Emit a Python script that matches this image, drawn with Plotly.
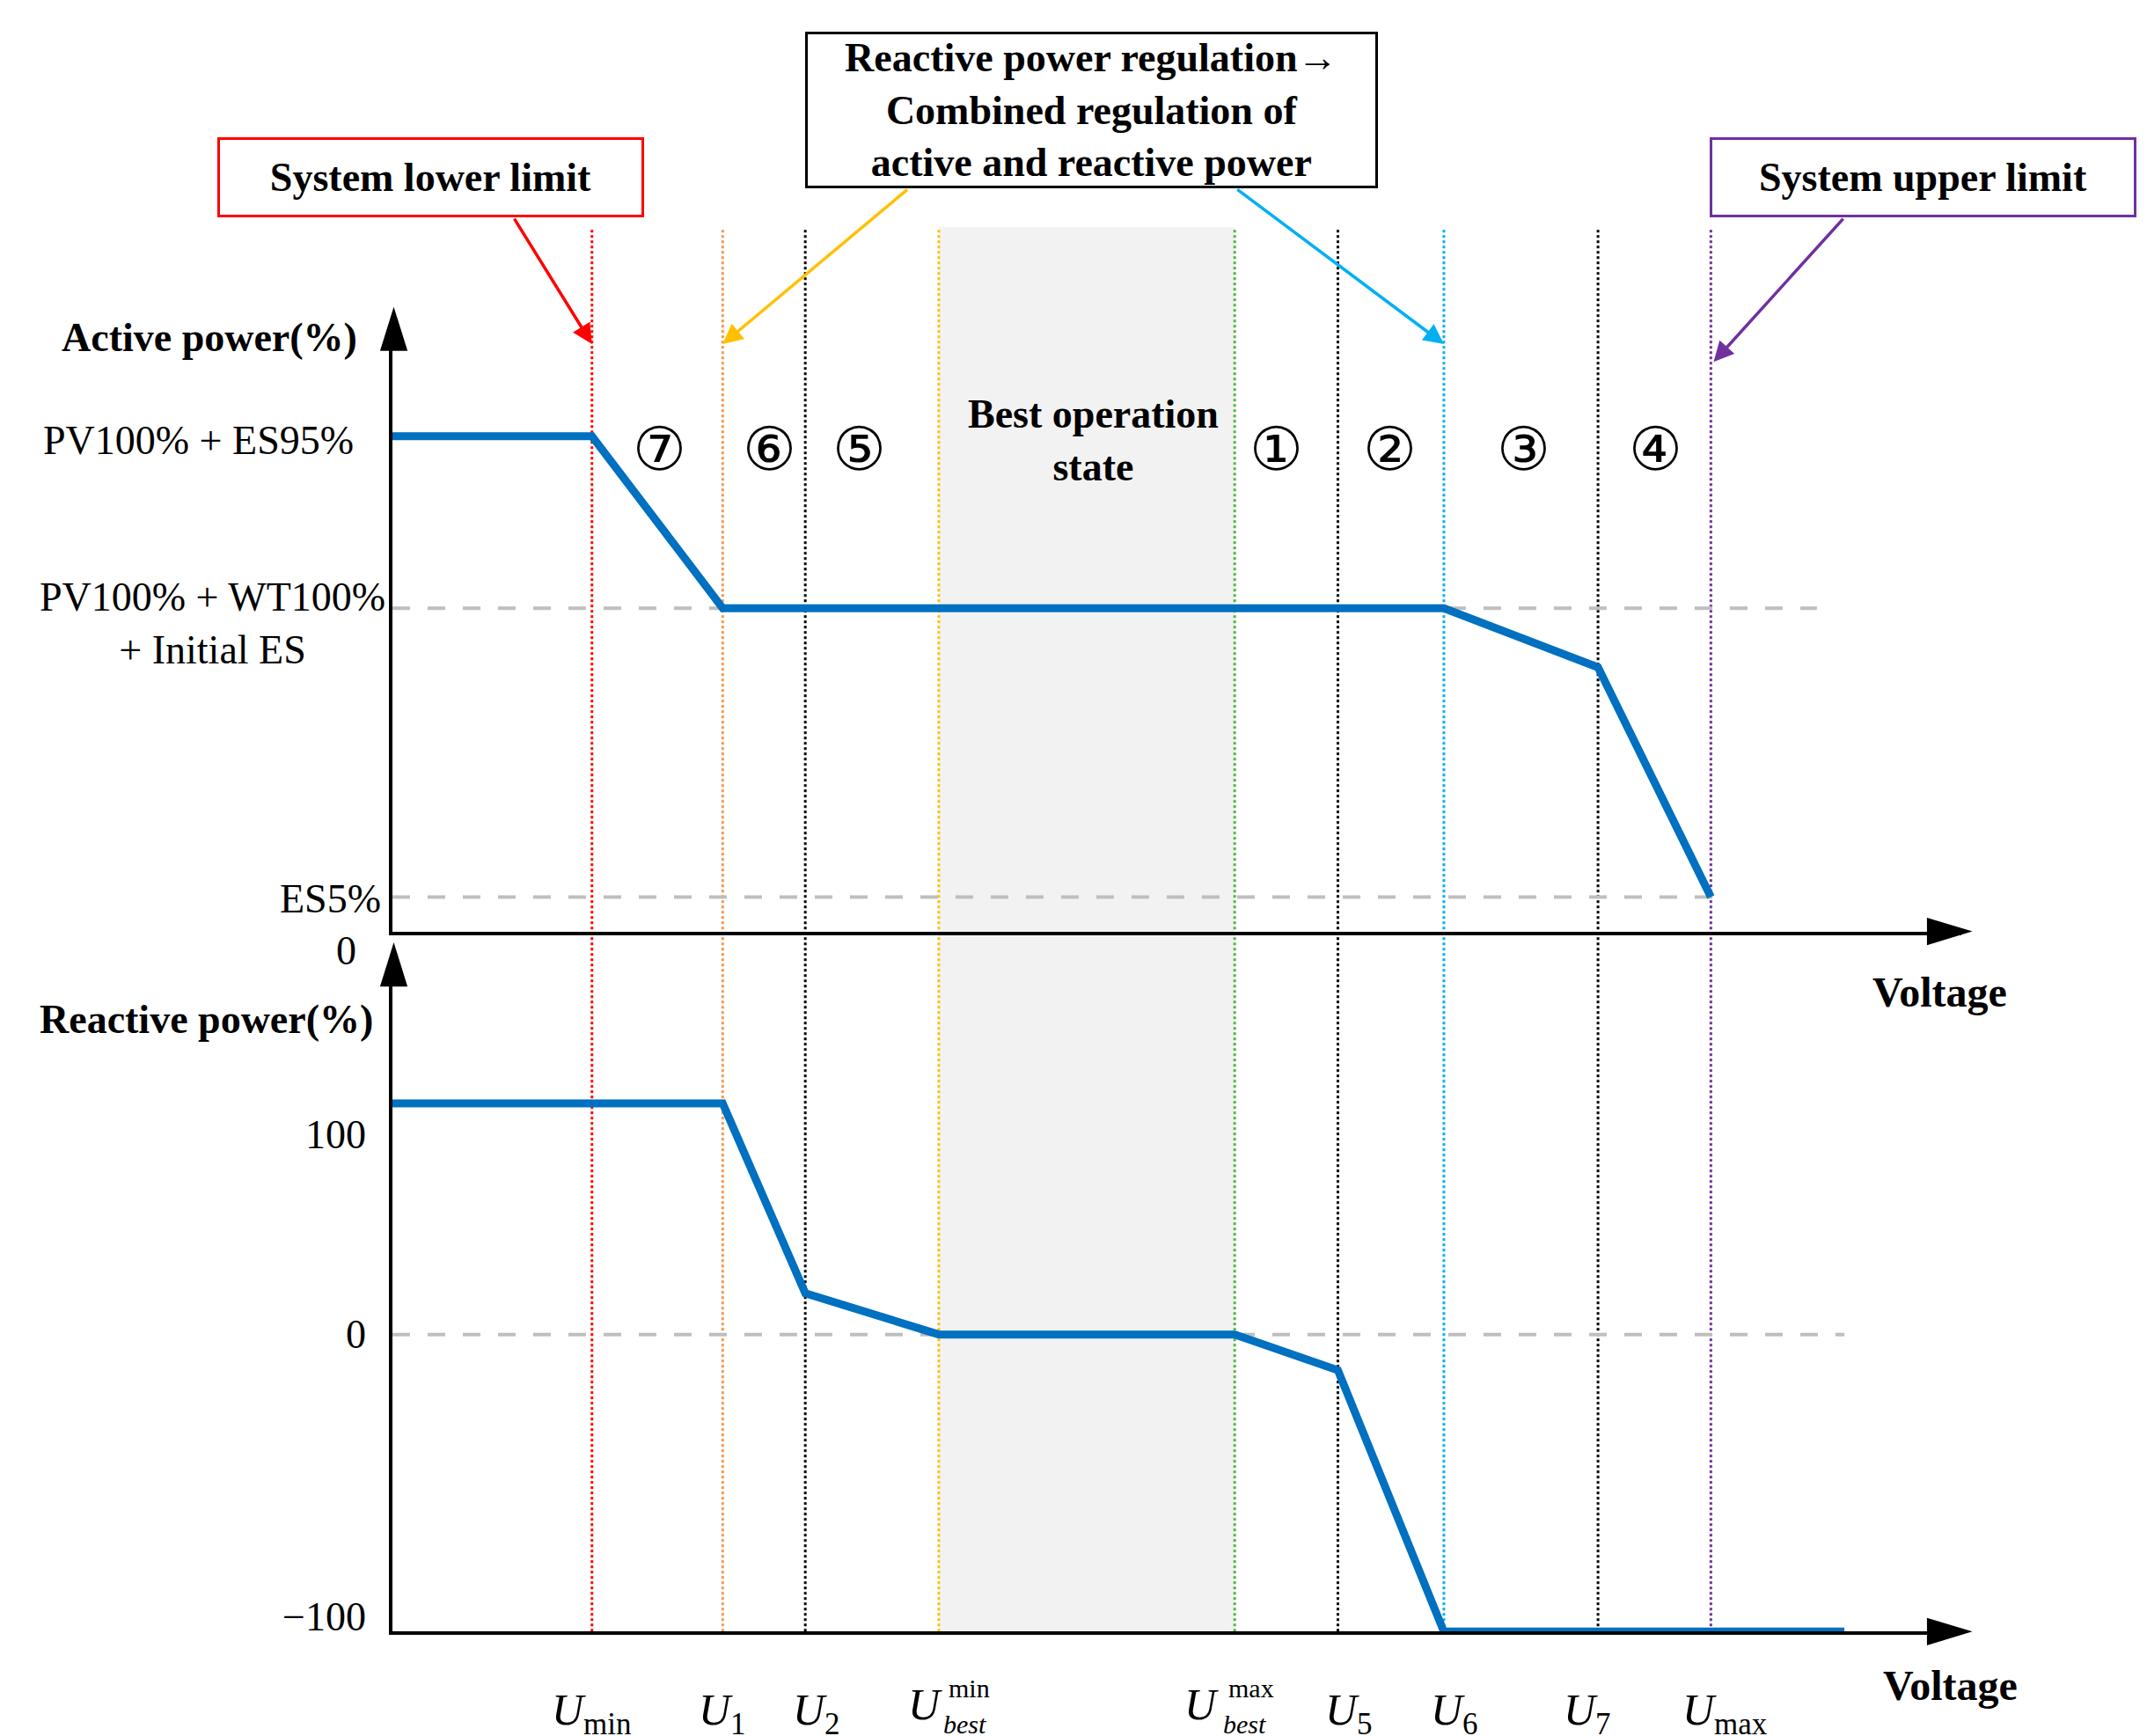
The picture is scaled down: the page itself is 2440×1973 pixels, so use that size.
import plotly.graph_objects as go

W, H = 2440, 1973
S = W / 1560.0
def px(x): return x / 1560.0
def py(y): return 1 - y / 1262.0

# voltage positions (horizontal axis units)
U_pos = {"Umin": 425, "U1": 520, "U2": 580, "Ubmin": 677, "Ubmax": 892,
         "U5": 967, "U6": 1044, "U7": 1156, "Umax": 1238}
U_colors = {"Umin": "#FF0000", "U1": "#F79646", "U2": "#000000", "Ubmin": "#FFC000",
            "Ubmax": "#4CB93C", "U5": "#000000", "U6": "#00B0F0", "U7": "#000000", "Umax": "#7030A0"}

# active power curve
act_x = [280, 425, 520, 1044, 1156, 1238]
act_y = [360, 360, 235, 235, 192, 25]
act_ticks = [360, 235, 25]
act_ticklabels = ["PV100% + ES95%", "PV100% + WT100%<br>+ Initial ES", "ES5%"]

# reactive power curve
rea_x = [280, 520, 580, 677, 892, 967, 1044, 1335]
rea_y = [168, 168, 30, 0, 0, -26, -216, -216]
rea_ticks = [145, 0, -205]
rea_ticklabels = ["100", "0", "−100"]

regions = ["⑦", "⑥", "⑤", "①", "②", "③", "④"]
region_x = [474, 554, 619, 922, 1005, 1102, 1198]

BLUE = "#0070C0"
FONT = "Liberation Serif"
fig = go.Figure()
fig.add_trace(go.Scatter(x=act_x, y=act_y, mode="lines", line=dict(color=BLUE, width=9),
                         xaxis="x", yaxis="y", showlegend=False))
fig.add_trace(go.Scatter(x=rea_x, y=rea_y, mode="lines", line=dict(color=BLUE, width=9),
                         xaxis="x2", yaxis="y2", showlegend=False))

ax_common = dict(showgrid=False, zeroline=False, showticklabels=False, ticks="",
                 showline=True, linecolor="black", linewidth=4, range=[280, 1420],
                 domain=[px(280), px(1420)])
fig.update_layout(
    width=W, height=H, plot_bgcolor="white", paper_bgcolor="white",
    margin=dict(l=0, r=0, t=0, b=0),
    xaxis=dict(**ax_common, anchor="y"),
    xaxis2=dict(**ax_common, anchor="y2"),
    yaxis=dict(domain=[py(672), py(245)], range=[0, 427], showgrid=False, zeroline=False,
               showticklabels=False, showline=True, linecolor="black", linewidth=4, anchor="x"),
    yaxis2=dict(domain=[py(1181), py(705)], range=[-216, 260], showgrid=False, zeroline=False,
                showticklabels=False, showline=True, linecolor="black", linewidth=4, anchor="x2"),
)

shapes = []
shapes.append(dict(type="rect", xref="x", yref="paper", x0=U_pos["Ubmin"], x1=U_pos["Ubmax"],
                   y0=py(1181), y1=py(160), fillcolor="#F2F2F2", line=dict(width=0), layer="below"))
for k, xv in U_pos.items():
    shapes.append(dict(type="line", xref="x", yref="paper", x0=xv, x1=xv, y0=py(1181), y1=py(160),
                       line=dict(color=U_colors[k], width=3, dash="dot"), layer="below"))
GD = dict(color="#BFBFBF", width=4, dash="longdash")
shapes += [
    dict(type="line", xref="x", yref="y", x0=280, x1=1315, y0=235, y1=235, line=GD, layer="below"),
    dict(type="line", xref="x", yref="y", x0=280, x1=1240, y0=25, y1=25, line=GD, layer="below"),
    dict(type="line", xref="x2", yref="y2", x0=280, x1=1335, y0=0, y1=0, line=GD, layer="below"),
]
def tri(pts):
    d = "M " + " L ".join(f"{px(a)},{py(b)}" for a, b in pts) + " Z"
    return dict(type="path", xref="paper", yref="paper", path=d, fillcolor="black", line=dict(width=0))
shapes += [tri([(271, 250), (291, 250), (281, 218)]), tri([(271, 712), (291, 712), (281, 680)]),
           tri([(1395, 662), (1395, 682), (1428, 672)]), tri([(1395, 1171), (1395, 1191), (1428, 1181)])]
fig.update_layout(shapes=shapes)

ann = []
def txt(x, y, t, size=48, bold=False, xa="center", **kw):
    if bold: t = "<b>" + t + "</b>"
    ann.append(dict(xref="paper", yref="paper", x=px(x), y=py(y), text=t, showarrow=False,
                    xanchor=xa, yanchor="middle", font=dict(family=FONT, size=size, color="black"), **kw))

txt(253, 315, act_ticklabels[0], 46, xa="right")
txt(276, 448, act_ticklabels[1], 46, xa="right", align="center")
txt(273, 648, act_ticklabels[2], 46, xa="right")
txt(255, 686, "0", 46, xa="right")
for v, lab in zip(rea_ticks, rea_ticklabels):
    ann.append(dict(xref="paper", yref="y2", x=px(262), y=v, text=lab, showarrow=False, xanchor="right",
                    font=dict(family=FONT, size=46, color="black")))

txt(147, 240, "Active power(%)", 46, True)
txt(145, 736, "Reactive power(%)", 46, True)
txt(1404, 716, "Voltage", 48, True)
txt(1412, 1220, "Voltage", 48, True)
txt(789, 315, "Best operation<br>state", 46, True)
for r, xv in zip(regions, region_x):
    txt(xv, 322, r, 68)

# voltage labels
txt(U_pos["Umin"], 1240, "<i>U</i><sub>min</sub>", 50)
txt(U_pos["U1"], 1240, "<i>U</i><sub>1</sub>", 50)
txt(U_pos["U2"] + 8, 1240, "<i>U</i><sub>2</sub>", 50)
txt(U_pos["Ubmin"] - 10, 1234, "<i>U</i>", 50)
txt(U_pos["Ubmin"] + 6, 1222, "min", 30, xa="left")
txt(U_pos["Ubmin"] + 2, 1248, "<i>best</i>", 30, xa="left")
txt(U_pos["Ubmax"] - 24, 1234, "<i>U</i>", 50)
txt(U_pos["Ubmax"] - 6, 1222, "max", 30, xa="left")
txt(U_pos["Ubmax"] - 10, 1248, "<i>best</i>", 30, xa="left")
txt(U_pos["U5"] + 8, 1240, "<i>U</i><sub>5</sub>", 50)
txt(U_pos["U6"] + 8, 1240, "<i>U</i><sub>6</sub>", 50)
txt(U_pos["U7"] - 8, 1240, "<i>U</i><sub>7</sub>", 50)
txt(U_pos["Umax"] + 10, 1240, "<i>U</i><sub>max</sub>", 50)

# boxes
def box(x0, x1, y0, y1, t, col):
    ann.append(dict(xref="paper", yref="paper", x=px((x0 + x1) / 2), y=py((y0 + y1) / 2), text="<b>" + t + "</b>",
                    showarrow=False, xanchor="center", yanchor="middle", width=(x1 - x0) * S - 8,
                    height=(y1 - y0) * S - 8, bordercolor=col, borderwidth=3, bgcolor="white",
                    font=dict(family=FONT, size=46, color="black")))
box(153, 463, 95, 153, "System lower limit", "#FF0000")
box(580, 996, 18, 132, "Reactive power regulation→<br>Combined regulation of<br>active and reactive power", "#000000")
box(1237, 1547, 95, 153, "System upper limit", "#7030A0")

def arrow(x0, y0, x1, y1, col):
    ann.append(dict(xref="paper", yref="paper", x=px(x1), y=py(y1), ax=(x0 - x1) * S, ay=(y0 - y1) * S,
                    axref="pixel", ayref="pixel", text="", showarrow=True, arrowhead=2, arrowsize=1.3,
                    arrowwidth=3.5, arrowcolor=col))
arrow(368, 153, 425, 245, "#FF0000")
arrow(655, 132, 520, 245, "#FFC000")
arrow(893, 132, 1044, 245, "#00B0F0")
arrow(1335, 153, 1240, 258, "#7030A0")

fig.update_layout(annotations=ann)
fig.write_html("out.html")
